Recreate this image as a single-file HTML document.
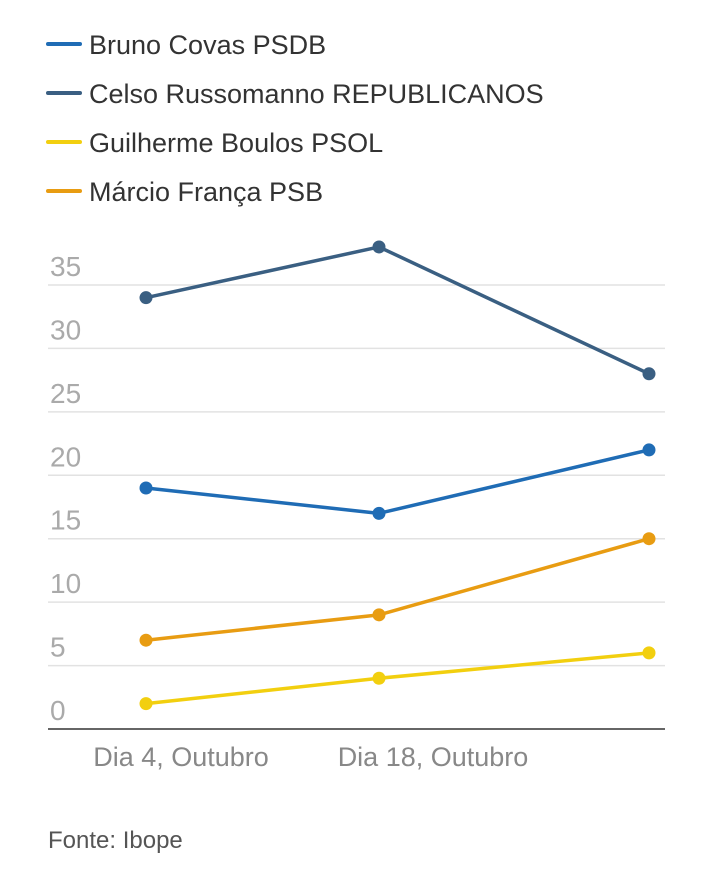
<!DOCTYPE html>
<html><head><meta charset="utf-8">
<style>
html,body{margin:0;padding:0;background:#fff;}
svg{display:block;font-family:"Liberation Sans",sans-serif;}
</style></head>
<body>
<svg id="chart" width="720" height="884" viewBox="0 0 720 884" xmlns="http://www.w3.org/2000/svg">
<g id="legend"></g>
<g id="grid"></g>
<g id="yaxis"></g>
<g id="xaxis"></g>
<g id="series"></g>
<text x="48" y="848" font-size="24" fill="#555">Fonte: Ibope</text>
</svg>
<script>
const categories = ["Dia 4, Outubro", "Dia 18, Outubro", ""];
const seriesNames = ["Bruno Covas PSDB", "Celso Russomanno REPUBLICANOS", "Guilherme Boulos PSOL", "Márcio França PSB"];
const covas = [19, 17, 22];
const russomanno = [34, 38, 28];
const boulos = [2, 4, 6];
const franca = [7, 9, 15];
const yTicks = [0, 5, 10, 15, 20, 25, 30, 35];

const seriesData = [covas, russomanno, boulos, franca];
const colors = ["#1f6cb5", "#3a5f82", "#f2cf0f", "#e89c12"];
const NS = "http://www.w3.org/2000/svg";
const x0 = 48, x1 = 665, y0 = 729, pxPerUnit = (729 - 285) / 35;
const xPos = [146, 379, 649];
function xScale(i){ return xPos[i]; }
function yScale(v){ return y0 - v * pxPerUnit; }
function mk(tag, attrs, parent){ const e = document.createElementNS(NS, tag); for (const k in attrs) e.setAttribute(k, attrs[k]); parent.appendChild(e); return e; }

const legend = document.getElementById('legend');
seriesNames.forEach((n, i) => {
  const y = 44 + i * 49;
  const l = mk('line', {x1:48, x2:80, y1:y, y2:y, stroke:colors[i], 'stroke-width':4, 'stroke-linecap':'round'}, legend);
  
  
  const t = mk('text', {x:89, y:y+10, 'font-size':27, fill:'#333'}, legend);
  
  
  t.textContent = n;
});

const grid = document.getElementById('grid');
const yaxis = document.getElementById('yaxis');
yTicks.forEach(v => {
  const y = yScale(v);
  if (v > 0) {
    const g = mk('line', {x1:x0, x2:x1, y1:y, y2:y, stroke:'#e2e2e2', 'stroke-width':1.5}, grid);
    
    
  }
  const t = mk('text', {x:50, y:y-9, 'font-size':28, fill:'#aaa'}, yaxis);
  
  
  t.textContent = v;
});

const xaxis = document.getElementById('xaxis');
const base = mk('line', {x1:x0, x2:x1, y1:y0, y2:y0, stroke:'#333', 'stroke-width':1.5}, xaxis);


categories.forEach((c, i) => {
  if (!c) return;
  const t = mk('text', {x:xScale(i) + (i===0 ? 35 : 54), y:766, 'font-size':27, fill:'#888', 'text-anchor':'middle'}, xaxis);
  
  
  t.textContent = c;
});

const sg = document.getElementById('series');
seriesData.forEach((arr, s) => {
  const pts = arr.map((v, i) => xScale(i) + ',' + yScale(v)).join(' ');
  const pl = mk('polyline', {points:pts, fill:'none', stroke:colors[s], 'stroke-width':3.5, 'stroke-linejoin':'round'}, sg);
  
  
  arr.forEach((v, i) => {
    const c = mk('circle', {cx:xScale(i), cy:yScale(v), r:6.5, fill:colors[s]}, sg);
    
    
  });
});
</script>
</body></html>
